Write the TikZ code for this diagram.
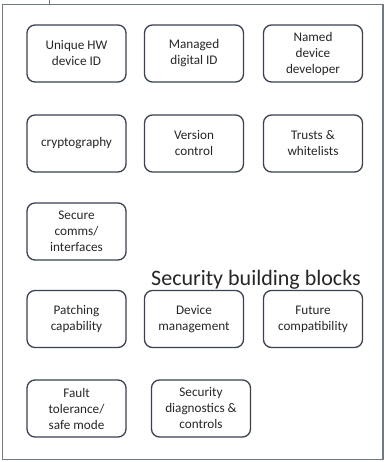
\documentclass[tikz,border=0pt]{standalone}
\usepackage{fontspec}
\setmainfont{Carlito}
\begin{document}
\begin{tikzpicture}[x=1pt,y=-1pt,
  block/.style={draw=blockline, line width=1.3pt, rounded corners=8pt,
    minimum width=99pt, minimum height=57pt, align=center,
    text=textgray, font=\fontsize{13.2}{16}\selectfont, inner sep=2pt},
  frame/.style={draw=framegray, line width=1.2pt}]
\definecolor{blockline}{HTML}{3A4150}
\definecolor{framegray}{HTML}{707884}
\definecolor{textgray}{HTML}{262626}
\useasboundingbox (0,0) rectangle (385,462);
% outer frame
\draw[frame] (2.5,4.5) rectangle (383,459.5);
\coordinate (tickTop) at (49,0);
\coordinate (tickBot) at (49,4.5);
\draw[framegray, line width=0.8pt] (tickTop) -- (tickBot);
% building blocks
\node[block] (hwid)  at (76.5,53.5)  {Unique HW\\device ID};
\node[block] (digid) at (194,53.5)   {Managed\\digital ID};
\node[block] (dev)   at (313,53.5)   {Named\\device\\developer};
\node[block] (crypt) at (76.5,143.5) {cryptography};
\node[block] (ver)   at (194,143.5)  {Version\\control};
\node[block] (trust) at (313,143.5)  {Trusts \&\\whitelists};
\node[block] (comms) at (76.5,231.5) {Secure\\comms/\\interfaces};
\node[text=textgray, font=\fontsize{22}{26}\selectfont, anchor=base] (title) at (256,285) {Security building blocks};
\node[block] (patch) at (76.5,319)   {Patching\\capability};
\node[block] (mgmt)  at (194,319)    {Device\\management};
\node[block] (fut)   at (313,319)    {Future\\compatibility};
\node[block] (fault) at (76.5,408.5) {Fault\\tolerance/\\safe mode};
\node[block] (diag)  at (201,408.5)  {Security\\diagnostics \&\\controls};
\end{tikzpicture}
\end{document}
